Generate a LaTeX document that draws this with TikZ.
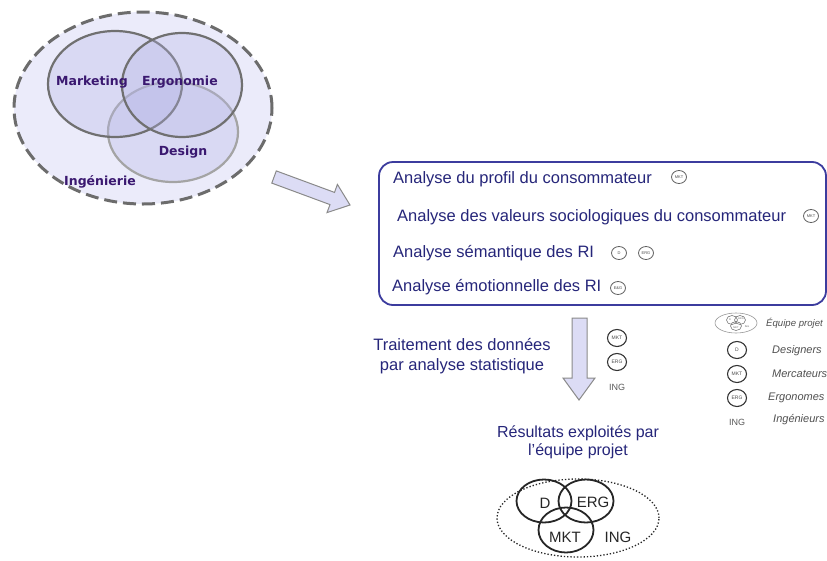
\documentclass[tikz,border=0pt]{standalone}
\usepackage{fontspec}
\setmainfont{Liberation Sans}
\newfontfamily\verdanalike{DejaVu Sans}
\usetikzlibrary{shapes.geometric}

\definecolor{lav}{HTML}{EBEBFA}
\definecolor{lavset}{HTML}{B4B4E6}
\definecolor{setline}{HTML}{707070}
\definecolor{setlinelight}{HTML}{A4A4A4}
\definecolor{teamdash}{HTML}{6C6C6C}
\definecolor{purp}{HTML}{3A1870}
\definecolor{boxblue}{HTML}{3C3C9E}
\definecolor{navy}{HTML}{26267A}
\definecolor{arrowfill}{HTML}{DCDCF5}
\definecolor{arrowline}{HTML}{8A8A8A}
\definecolor{legendgray}{HTML}{505050}

\newcommand{\fs}[1]{\fontsize{#1}{#1}\selectfont}

\begin{document}
\begin{tikzpicture}[x=1pt,y=-1pt,
  setcircle/.style={ellipse, draw=setline, line width=2.2pt, fill=lavset, fill opacity=0.32, inner sep=0pt},
  setlabel/.style={font=\verdanalike\bfseries\fs{12.5}, text=purp, inner sep=0pt},
  blockarrow/.style={draw=arrowline, line width=1pt, fill=arrowfill, line join=miter},
  stepline/.style={anchor=base west, inner sep=0pt, text=navy, font=\fs{16.5}},
  tag/.style={ellipse, draw=gray!75!black, line width=0.8pt, fill=white, inner sep=0pt,
    minimum width=15pt, minimum height=13pt, font=\fs{4}, text=gray!60!black},
  bigtag/.style={ellipse, draw=black!80, line width=1.1pt, fill=white, inner sep=0pt,
    minimum width=19pt, minimum height=17pt, font=\fs{5}, text=black!70},
  legendtext/.style={anchor=west, inner sep=0pt, font=\itshape\fs{11}, text=legendgray},
  caption/.style={align=center, text=navy, font=\fs{16}, inner sep=0pt},
  teamcircle/.style={ellipse, draw=black!85, line width=1.8pt, inner sep=0pt},
  teamlabel/.style={inner sep=0pt, font=\fs{15}, text=black!85}
]
\useasboundingbox (0,0) rectangle (827,560);
\clip (0,0) rectangle (827,560);
\fill[white] (0,0) rectangle (827,560);

% ---------- disciplines (top left) ----------
\node[ellipse, draw=teamdash, line width=3pt, dash pattern=on 13pt off 6pt, fill=lav,
      minimum width=258pt, minimum height=192pt] (team) at (143,108) {};
\node[setcircle, draw=setlinelight, minimum width=130pt, minimum height=100pt] (design) at (173,132) {};
\node[setcircle, minimum width=134pt, minimum height=106pt] (marketing) at (115,84) {};
\node[setcircle, minimum width=120pt, minimum height=104pt] (ergonomie) at (182,85) {};
\node[setlabel] (lmkt) at (92,82) {Marketing};
\node[setlabel] (lerg) at (180,82) {Ergonomie};
\node[setlabel] (ldes) at (183,152) {Design};
\node[setlabel] (ling) at (100,182) {Ingénierie};

% ---------- block arrow towards the analyses ----------
\draw[blockarrow] (276.3,170.9) -- (334.5,192.4) -- (337.4,184.4) -- (350,205)
  -- (327,212.6) -- (330,204.6) -- (271.8,183.1) -- cycle;

% ---------- analyses ----------
\node[draw=boxblue, line width=1.8pt, rounded corners=14pt, inner sep=0pt,
      minimum width=447pt, minimum height=143pt] (analyses) at (602.5,233.5) {};
\node[stepline] (a1) at (393,183) {Analyse du profil du consommateur};
\node[stepline] (a2) at (397,221) {Analyse des valeurs sociologiques du consommateur};
\node[stepline] (a3) at (393,257) {Analyse sémantique des RI};
\node[stepline] (a4) at (392,291) {Analyse émotionnelle des RI};
\node[tag] (t1) at (679,177) {MKT};
\node[tag] (t2) at (811,216) {MKT};
\node[tag] (t3) at (619,253) {D};
\node[tag] (t4) at (646,253) {ERG};
\node[tag] (t5) at (618,288) {E\&G};

% ---------- statistical processing ----------
\draw[blockarrow] (572,318) -- (587,318) -- (587,378) -- (595,378) -- (579,400)
  -- (563,378) -- (572,378) -- cycle;
\node[caption, font=\fs{16.5}] (proc) at (462,356) {Traitement des données\\[3pt]par analyse statistique};
\node[bigtag] (p1) at (617,338) {MKT};
\node[bigtag] (p2) at (617,362) {ERG};
\node[inner sep=0pt, font=\fs{9}, text=black!65] (p3) at (617,387) {ING};

% ---------- legend ----------
\begin{scope}[shift={(736,323)}]
  \node[ellipse, draw=black!40, line width=0.6pt, minimum width=42pt, minimum height=20pt, inner sep=0pt] (icon) at (0,0) {};
  \node[ellipse, draw=black!55, line width=0.6pt, minimum width=11pt, minimum height=9pt, inner sep=0pt] (icd) at (-4,-3) {};
  \node[ellipse, draw=black!55, line width=0.6pt, minimum width=11pt, minimum height=9pt, inner sep=0pt] (ice) at (4,-3) {};
  \node[ellipse, draw=black!55, line width=0.6pt, minimum width=11pt, minimum height=9pt, inner sep=0pt] (icm) at (0,3) {};
  \node[inner sep=0pt, font=\fs{2.5}, text=black!60] at (-6,-3) {D};
  \node[inner sep=0pt, font=\fs{2.5}, text=black!60] at (5,-4) {ERG};
  \node[inner sep=0pt, font=\fs{2.5}, text=black!60] at (0,4.5) {MKT};
  \node[inner sep=0pt, font=\fs{2.5}, text=black!60] at (11,4) {ING};
\end{scope}
\node[legendtext, font=\itshape\fs{9.6}] (lg0) at (766,323) {Équipe projet};
\node[bigtag] (lgd) at (737,350) {D};
\node[legendtext] (lg1) at (772,351) {Designers};
\node[bigtag] (lgm) at (737,374) {MKT};
\node[legendtext] (lg2) at (772,374) {Mercateurs};
\node[bigtag] (lge) at (737,398) {ERG};
\node[legendtext] (lg3) at (768,398) {Ergonomes};
\node[inner sep=0pt, font=\fs{9}, text=black!65] (lgi) at (737,422) {ING};
\node[legendtext] (lg4) at (773,420) {Ingénieurs};

% ---------- results ----------
\node[caption] (res) at (578,442) {Résultats exploités par\\[2pt]l’équipe projet};
\node[ellipse, draw=black!85, line width=1.3pt, dotted, minimum width=162pt, minimum height=78pt, inner sep=0pt] (proj) at (578,518) {};
\node[teamcircle, minimum width=55pt, minimum height=43pt] (cd) at (544,501) {};
\node[teamcircle, minimum width=55pt, minimum height=43pt] (ce) at (586,501) {};
\node[teamcircle, minimum width=55pt, minimum height=45pt] (cm) at (566,530) {};
\node[teamlabel] at (545,503) {D};
\node[teamlabel] at (593,502) {ERG};
\node[teamlabel] at (565,537) {MKT};
\node[teamlabel] at (618,537) {ING};
\end{tikzpicture}
\end{document}
